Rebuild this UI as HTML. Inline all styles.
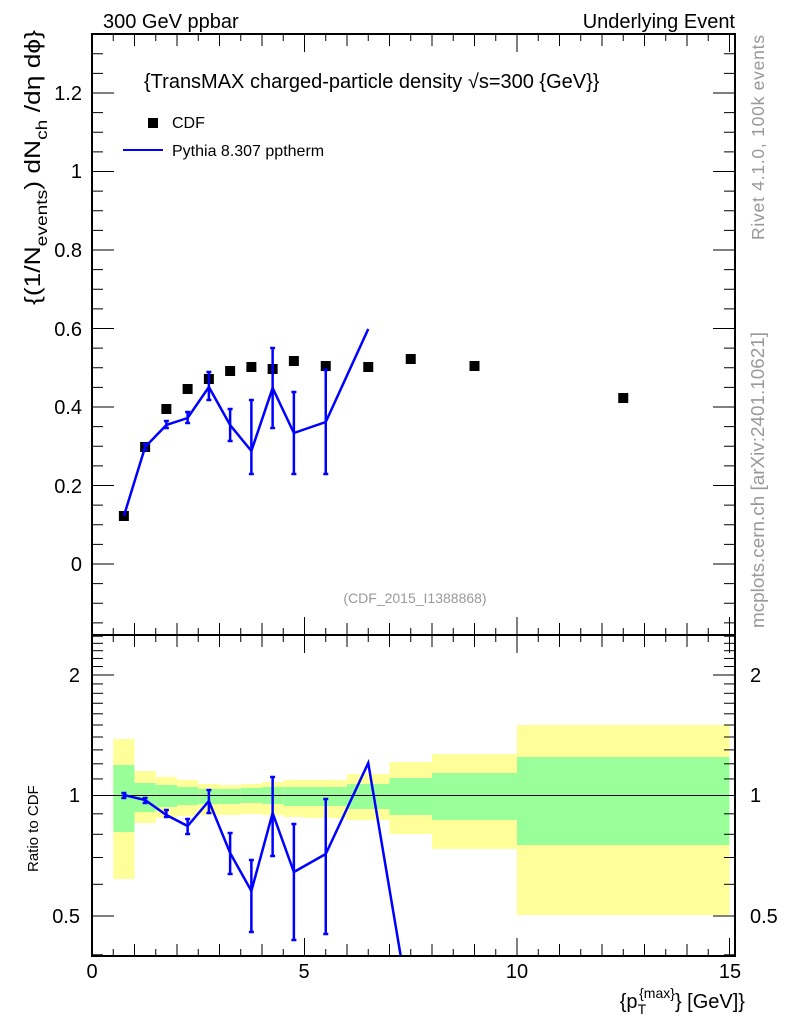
<!DOCTYPE html>
<html><head><meta charset="utf-8"><style>
body{margin:0;background:#fff}
svg{display:block;font-family:"Liberation Sans",sans-serif}
</style></head><body>
<svg id="s" width="786" height="1024" viewBox="0 0 786 1024" xmlns="http://www.w3.org/2000/svg">
<rect width="786" height="1024" fill="#fff"/>
<text x="103" y="28" font-size="20">300 GeV ppbar</text>
<text x="735" y="28" font-size="20" text-anchor="end">Underlying Event</text>
<text x="764" y="240" font-size="17.5" fill="#999" transform="rotate(-90 764 240)" textLength="205" lengthAdjust="spacing">Rivet 4.1.0,  100k events</text>
<text x="764" y="628" font-size="18" fill="#999" transform="rotate(-90 764 628)" textLength="296" lengthAdjust="spacingAndGlyphs">mcplots.cern.ch [arXiv:2401.10621]</text>
<text x="144" y="88" font-size="20">{TransMAX charged-particle density √s=300 {GeV}}</text>
<rect x="148" y="118" width="10" height="10" fill="#000"/>
<text x="172" y="128" font-size="16">CDF</text>
<line x1="123" y1="150" x2="163" y2="150" stroke="#00f" stroke-width="2"/>
<text x="172" y="156" font-size="16">Pythia 8.307 pptherm</text>
<text x="415" y="603" font-size="14" fill="#999" text-anchor="middle">(CDF_2015_I1388868)</text>
<text x="40" y="305" font-size="22" transform="rotate(-90 40 305)" textLength="275" lengthAdjust="spacingAndGlyphs">{(1/N<tspan font-size="16" dy="7">events</tspan><tspan dy="-7">) dN</tspan><tspan font-size="16" dy="7">ch</tspan><tspan dy="-7"> /dη  dϕ}</tspan></text>
<g font-size="20" text-anchor="end">
<text x="82" y="100">1.2</text><text x="82" y="178">1</text><text x="82" y="257">0.8</text>
<text x="82" y="336">0.6</text><text x="82" y="414">0.4</text><text x="82" y="493">0.2</text><text x="82" y="571">0</text>
<text x="80" y="682">2</text><text x="80" y="802">1</text><text x="80" y="923">0.5</text>
</g>
<g font-size="20" text-anchor="start">
<text x="750" y="682">2</text><text x="750" y="802">1</text><text x="750" y="923">0.5</text>
</g>
<g font-size="20" text-anchor="middle">
<text x="92" y="978">0</text><text x="304" y="978">5</text><text x="517" y="978">10</text><text x="730" y="978">15</text>
</g>
<text x="745" y="1008" font-size="20" text-anchor="end">{p<tspan font-size="14" dy="6">T</tspan><tspan font-size="14" dx="-7" dy="-16">{max}</tspan><tspan dy="10">} [GeV]}</tspan></text>
<text x="38" y="872" font-size="15" transform="rotate(-90 38 872)">Ratio to CDF</text>
<g id="bands"></g>
<line x1="92" y1="795.5" x2="735" y2="795.5" stroke="#000" stroke-width="1"/>
<g id="ticks" stroke="#000" stroke-width="1"></g>
<rect x="92" y="34" width="643" height="601" fill="none" stroke="#000" stroke-width="2"/>
<rect x="92" y="635" width="643" height="321" fill="none" stroke="#000" stroke-width="2"/>
<g id="data"></g>
</svg>
<script>
var NS="http://www.w3.org/2000/svg";
function el(p,t,a){var e=document.createElementNS(NS,t);for(var k in a)e.setAttribute(k,a[k]);p.appendChild(e);return e;}
var X=function(v){return 92+v*42.5};
var Y=function(v){return 564-v*392.5};
var R=function(v){return 795.5-Math.log2(v)*120.5};
var T=document.getElementById('ticks');
function ln(x1,y1,x2,y2){el(T,'line',{x1:x1,y1:y1,x2:x2,y2:y2});}
for(var i=0;i<=30;i++){var v=i/2,x=X(v);if(x>735)break;var L=(i%10==0)?18:(i%2==0?12:7);
 ln(x,635,x,635-L);ln(x,34,x,34+L);ln(x,956,x,956-L);ln(x,635,x,635+L);}
for(var i=-3;i<=27;i++){var v=i*0.05,y=Y(v);if(y<34||y>635)continue;var L=(i%4==0)?22:11;ln(92,y,92+L,y);ln(735,y,735-L,y);}
var rv=[0.4,0.5,0.6,0.7,0.8,0.9,1,1.1,1.2,1.3,1.4,1.5,1.6,1.7,1.8,1.9,2,2.1,2.2,2.3,2.4,2.5];
rv.forEach(function(v){var y=R(v);if(y<635||y>956)return;var L=(v==0.5||v==1||v==2)?22:11;ln(92,y,92+L,y);ln(735,y,735-L,y);});
var B=document.getElementById('bands');
var bins=[[0.5,1,739,879,765,832],[1,1.5,771,823,783,812],[1.5,2,777,818,785,807],[2,2.5,780,816,787,805],[2.5,3,784,815,789,804],[3,3.5,785,815,789,804],[3.5,4,784,814,788,803],[4,4.5,782,815,787,804],[4.5,5,780,817,787,806],[5,6,780,818,787,806],[6,7,774,820,784,809],[7,8,762,834,778,815],[8,10,754,849,773,820],[10,15,725,915,757,845]];
bins.forEach(function(b){el(B,'rect',{x:X(b[0]),y:b[2],width:X(b[1])-X(b[0]),height:b[3]-b[2],fill:'#ffff99'});
 el(B,'rect',{x:X(b[0]),y:b[4],width:X(b[1])-X(b[0]),height:b[5]-b[4],fill:'#99ff99'});});
var D=document.getElementById('data');
[[0.75,516],[1.25,447],[1.75,409],[2.25,389],[2.75,379],[3.25,371],[3.75,367],[4.25,369],[4.75,361],[5.5,366],[6.5,367],[7.5,359],[9,366],[12.5,398]].forEach(function(p){
 el(D,'rect',{x:X(p[0])-5,y:p[1]-5,width:10,height:10,fill:'#000'});});
function series(pts,errs){
 el(D,'polyline',{points:pts.map(function(p){return X(p[0])+','+p[1]}).join(' '),fill:'none',stroke:'#00f','stroke-width':2.5});
 errs.forEach(function(e){var x=X(e[0]);el(D,'line',{x1:x,y1:e[1],x2:x,y2:e[2],stroke:'#00f','stroke-width':2.5});
  el(D,'line',{x1:x-2.5,y1:e[1],x2:x+2.5,y2:e[1],stroke:'#00f','stroke-width':2.5});
  el(D,'line',{x1:x-2.5,y1:e[2],x2:x+2.5,y2:e[2],stroke:'#00f','stroke-width':2.5});});
}
series([[0.75,516],[1.25,447],[1.75,425],[2.25,418],[2.75,387],[3.25,425],[3.75,451],[4.25,388],[4.75,433],[5.5,422],[6.5,329]],
 [[1.25,444,450],[1.75,421,428],[2.25,412,423],[2.75,372,400],[3.25,409,441],[3.75,400,474],[4.25,348,428],[4.75,392,474],[5.5,370,474]]);
series([[0.75,795],[1.25,800],[1.75,815],[2.25,826],[2.75,801],[3.25,853],[3.75,891],[4.25,813],[4.75,872],[5.5,854],[6.5,763],[7.26,955]],
 [[0.75,793,798],[1.25,798,803],[1.75,810,817],[2.25,819,834],[2.75,790,813],[3.25,833,874],[3.75,860,932],[4.25,777,856],[4.75,824,940],[5.5,799,934]]);
</script>
</body></html>
